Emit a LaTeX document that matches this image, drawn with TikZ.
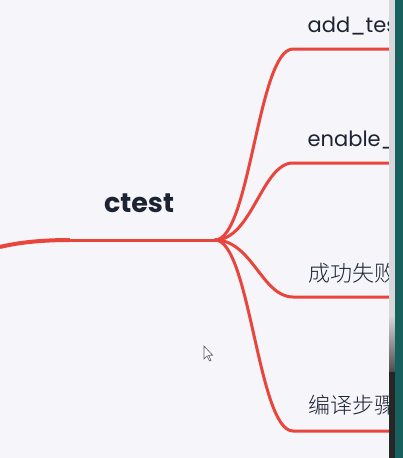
\documentclass[tikz,border=0pt]{standalone}
\usepackage{fontspec}
\setmainfont{Poppins}
\newfontfamily\cjk{Noto Sans CJK SC}[UprightFont=* Light]
\definecolor{bg}{HTML}{F6F5F9}
\definecolor{branch}{HTML}{E8453C}
\definecolor{ink}{HTML}{1C2333}
\definecolor{teal}{HTML}{17605E}
\definecolor{strip}{HTML}{D8D8DC}
\tikzset{
  link/.style={draw=branch, line width=3pt, line cap=round},
  leaf/.style={anchor=base west, inner sep=0pt, text=ink, font=\fontsize{21}{25}\selectfont},
  cjkleaf/.style={anchor=base west, inner sep=0pt, text=ink, font=\cjk\fontsize{22}{26}\selectfont},
}
\begin{document}
\begin{tikzpicture}[x=1pt,y=-1pt]
\useasboundingbox (0,0) rectangle (403,458);
\fill[bg] (0,0) rectangle (403,458);
% main stem
\coordinate (in) at (0,247);
\coordinate (mid) at (70,240);
\coordinate (hub) at (215,240);
\draw[draw=branch, line width=4pt] (in) .. controls (20,242) and (45,240) .. (mid);
\draw[link] (mid) -- (hub);
\node[anchor=base, inner sep=0pt, font=\bfseries\fontsize{27}{31}\selectfont, text=ink] (root) at (139,212.5) {ctest};
% branch endpoints
\coordinate (b1) at (293,49);
\coordinate (b2) at (293,163);
\coordinate (b3) at (293,297);
\coordinate (b4) at (293,431);
\coordinate (e1) at (392,49);
\coordinate (e2) at (392,163);
\coordinate (e3) at (392,297);
\coordinate (e4) at (392,431);
\draw[link] (hub) .. controls (250,240) and (258,49) .. (b1) -- (e1);
\draw[link] (hub) .. controls (252,240) and (262,163) .. (b2) -- (e2);
\draw[link] (hub) .. controls (252,240) and (262,297) .. (b3) -- (e3);
\draw[link] (hub) .. controls (250,240) and (258,431) .. (b4) -- (e4);
% labels
\node[leaf] (l1) at (307.5,32.3) {add\_test};
\node[leaf] (l2) at (307.5,146.7) {enable\_testing};
\node[cjkleaf] (l3) at (308,281.5) {成功失败};
\node[cjkleaf] (l4) at (308,413) {编译步骤};
% cursor
\draw[fill=white, draw=gray!70!black, line width=0.6pt] (204,346) -- (204,359) -- (207,356) -- (209.5,361) -- (211,360.3) -- (208.6,355.4) -- (212.5,355.2) -- cycle;
% right edge of the window
\fill[strip] (389,0) rectangle (395,458);
\shade[top color=strip, bottom color=gray!60!black] (389,315) rectangle (395,372);
\fill[black!85] (389,372) rectangle (395,458);
\fill[teal] (395,0) rectangle (403,458);
\end{tikzpicture}
\end{document}
